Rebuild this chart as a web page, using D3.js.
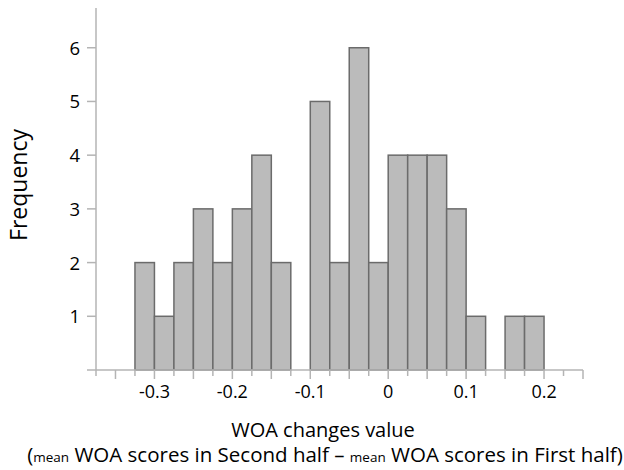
<!DOCTYPE html>
<html>
<head>
<meta charset="utf-8">
<script src="https://cdn.jsdelivr.net/npm/d3@7"></script>
<style>
  body { margin: 0; background: #fff; }
  svg { display: block; }
  text { font-family: "Open Sans", Carlito, Calibri, Lato, sans-serif; fill: #000; }
</style>
</head>
<body>
<svg id="chart" width="624" height="470"></svg>
<script>
// Histogram bins (left edges), width 0.025
const binStarts = [-0.325, -0.3, -0.275, -0.25, -0.225, -0.2, -0.175, -0.15, -0.125, -0.1, -0.075, -0.05, -0.025, 0, 0.025, 0.05, 0.075, 0.1, 0.125, 0.15, 0.175];
const counts    = [2, 1, 2, 3, 2, 3, 4, 2, 0, 5, 2, 6, 2, 4, 4, 4, 3, 1, 0, 1, 1];
const binWidth = 0.025;
const xTickLabels = [-0.3, -0.2, -0.1, 0, 0.1, 0.2];
const yTickLabels = [1, 2, 3, 4, 5, 6];
const xLabel = "WOA changes value";
const yLabel = "Frequency";

const svg = d3.select("#chart");
const x = d3.scaleLinear().domain([-0.375, 0.25]).range([96, 583]);
const y = d3.scaleLinear().domain([0, 6.74]).range([370, 8]);

const axisColor = "#b4b4b4";

// bars
svg.append("g").selectAll("rect")
  .data(binStarts.map((s, i) => ({ s, c: counts[i] })).filter(d => d.c > 0))
  .join("rect")
  .attr("x", d => x(d.s))
  .attr("y", d => y(d.c))
  .attr("width", d => x(d.s + binWidth) - x(d.s))
  .attr("height", d => y(0) - y(d.c))
  .attr("fill", "#bbbbbb")
  .attr("stroke", "#6b6b6b")
  .attr("stroke-width", 1.5);

// x axis: minor ticks every 0.025
const minor = d3.range(0, 26).map(i => -0.375 + i * 0.025);
const gx = svg.append("g");
gx.append("line").attr("x1", 87).attr("x2", x(0.25)).attr("y1", y(0)).attr("y2", y(0))
  .attr("stroke", axisColor).attr("stroke-width", 1.5);
gx.selectAll("line.t").data(minor).join("line").attr("class", "t")
  .attr("x1", d => x(d)).attr("x2", d => x(d))
  .attr("y1", y(0)).attr("y2", (d, i) => y(0) + (i % 2 === 1 ? 9 : 6))
  .attr("stroke", axisColor).attr("stroke-width", 1.5);
gx.selectAll("text").data(xTickLabels).join("text")
  .attr("x", d => x(d)).attr("y", 398)
  .attr("text-anchor", "middle").attr("font-size", 18)
  .text(d => String(d));

// y axis
const gy = svg.append("g");
gy.append("line").attr("x1", x(-0.375)).attr("x2", x(-0.375)).attr("y1", y(0)).attr("y2", y(6.74))
  .attr("stroke", axisColor).attr("stroke-width", 1.5);
gy.selectAll("line.t").data(yTickLabels).join("line").attr("class", "t")
  .attr("x1", 87).attr("x2", x(-0.375)).attr("y1", d => y(d)).attr("y2", d => y(d))
  .attr("stroke", axisColor).attr("stroke-width", 1.5);
gy.selectAll("text").data(yTickLabels).join("text")
  .attr("x", 80).attr("y", d => y(d) + 7)
  .attr("text-anchor", "end").attr("font-size", 18.5)
  .text(d => d);

// axis titles
svg.append("text").attr("transform", "translate(27,185) rotate(-90)")
  .attr("text-anchor", "middle").attr("font-size", 23).text(yLabel);
svg.append("text").attr("x", 323).attr("y", 437)
  .attr("text-anchor", "middle").attr("font-size", 20).text(xLabel);
const sub = svg.append("text").attr("x", 325).attr("y", 462)
  .attr("text-anchor", "middle").attr("font-size", 20.5);
sub.append("tspan").text("(");
sub.append("tspan").attr("font-size", 13.5).text("mean");
sub.append("tspan").text(" WOA scores in Second half \u2013 ");
sub.append("tspan").attr("font-size", 13.5).text("mean");
sub.append("tspan").text(" WOA scores in First half)");
</script>
</body>
</html>
